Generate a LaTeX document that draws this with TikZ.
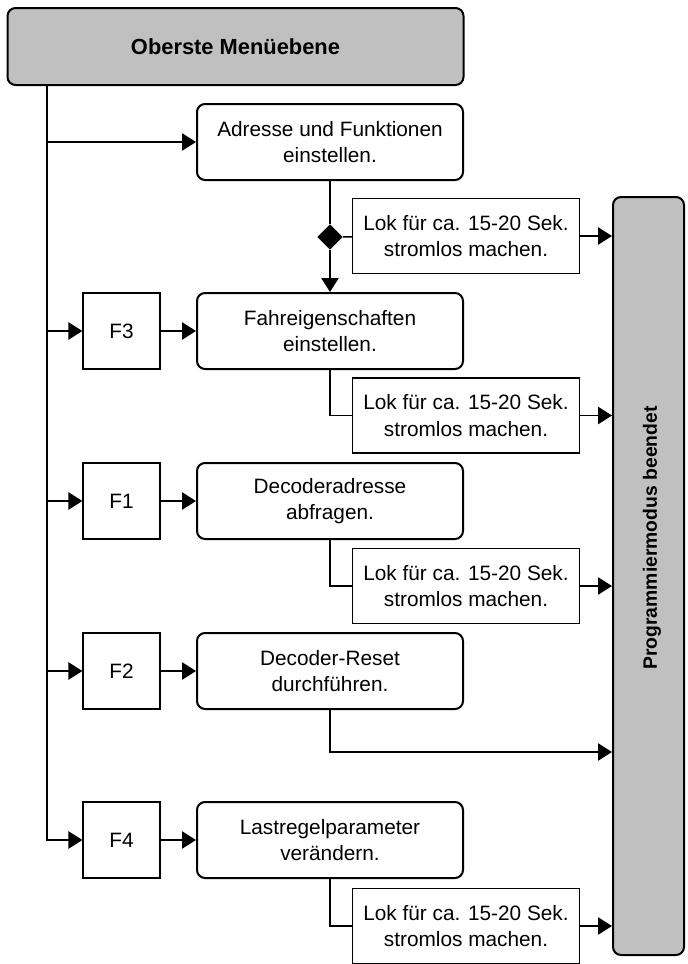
\documentclass[tikz,border=0pt]{standalone}
\usepackage{fontspec}
\setmainfont{Liberation Sans}
\usetikzlibrary{shapes.geometric,arrows.meta}

\definecolor{menugray}{HTML}{C0C0C0}
\tikzset{
  txt/.style={font=\fontsize{15.6pt}{20pt}\selectfont, align=center},
  menubox/.style={txt, draw, line width=1.5pt, rounded corners=6pt, fill=menugray,
    minimum width=342pt, minimum height=57.75pt, font=\fontsize{16.4pt}{20pt}\selectfont\bfseries},
  procbox/.style={txt, draw, line width=1.5pt, rounded corners=6pt, minimum width=199.5pt, minimum height=57pt},
  keybox/.style={txt, draw, line width=0.9pt, minimum width=57.75pt, minimum height=57pt},
  lokbox/.style={txt, draw, line width=1.1pt, minimum width=170.25pt, minimum height=56.25pt},
  conn/.style={line width=1.2pt},
  arr/.style={conn, -{Triangle[length=10.5pt,width=13pt]}},
}

\begin{document}
\begin{tikzpicture}[x=0.75pt, y=-0.75pt]
    \useasboundingbox (0,0) rectangle (688,964);

    % Top menu level
    \node[menubox] (menu) at (235.5,46.5) {Oberste Menüebene};
    \coordinate (spine) at (47,85);

    % Address and functions
    \node[procbox] (adr) at (330,142) {Adresse und Funktionen\\einstellen.};
    \node[diamond, fill, inner sep=0pt, minimum width=19pt, minimum height=19pt] (dia) at (330,237) {};
    \node[lokbox] (lok1) at (466,236) {Lok für ca. 15-20 Sek.\\stromlos machen.};

    % F3
    \node[keybox] (f3) at (121.5,331) {F3};
    \node[procbox] (fahr) at (330,331) {Fahreigenschaften\\einstellen.};
    \node[lokbox] (lok2) at (466,415.5) {Lok für ca. 15-20 Sek.\\stromlos machen.};

    % F1
    \node[keybox] (f1) at (121.5,501) {F1};
    \node[procbox] (dec) at (330,501) {Decoderadresse\\abfragen.};
    \node[lokbox] (lok3) at (466,586) {Lok für ca. 15-20 Sek.\\stromlos machen.};

    % F2
    \node[keybox] (f2) at (121.5,671) {F2};
    \node[procbox] (reset) at (330,671) {Decoder-Reset\\durchführen.};
    \coordinate (rs) at (330,752);

    % F4
    \node[keybox] (f4) at (121.5,840) {F4};
    \node[procbox] (last) at (330,840) {Lastregelparameter\\verändern.};
    \node[lokbox] (lok4) at (466,926) {Lok für ca. 15-20 Sek.\\stromlos machen.};

    % End of programming mode
    \node[draw, line width=1.5pt, rounded corners=6pt, fill=menugray,
      minimum width=53.25pt, minimum height=568.5pt] (ende) at (648.5,576) {};
    \node[rotate=90, font=\fontsize{14.5pt}{18pt}\selectfont\bfseries] (endtxt) at (652,538) {Programmiermodus beendet};

    % Connectors
    \draw[arr] (spine) |- (f4.west);
    \foreach \n in {adr,f3,f1,f2}
        \draw[arr] (spine |- \n.west) -- (\n.west);
    \foreach \a/\b in {f3/fahr,f1/dec,f2/reset,f4/last}
        \draw[arr] (\a) -- (\b);

    \draw[conn] (adr) -- (dia);
    \draw[arr] (dia) -- (fahr);
    \draw[conn] (dia) -- (lok1);
    \foreach \p/\l in {fahr/lok2,dec/lok3,last/lok4}
        \draw[conn] (\p.south) |- (\l.west);
    \foreach \l in {lok1,lok2,lok3,lok4}
        \draw[arr] (\l.east) -- (\l.east -| ende.west);
    \draw[arr] (reset.south) -- (rs) -- (rs -| ende.west);
\end{tikzpicture}
\end{document}
